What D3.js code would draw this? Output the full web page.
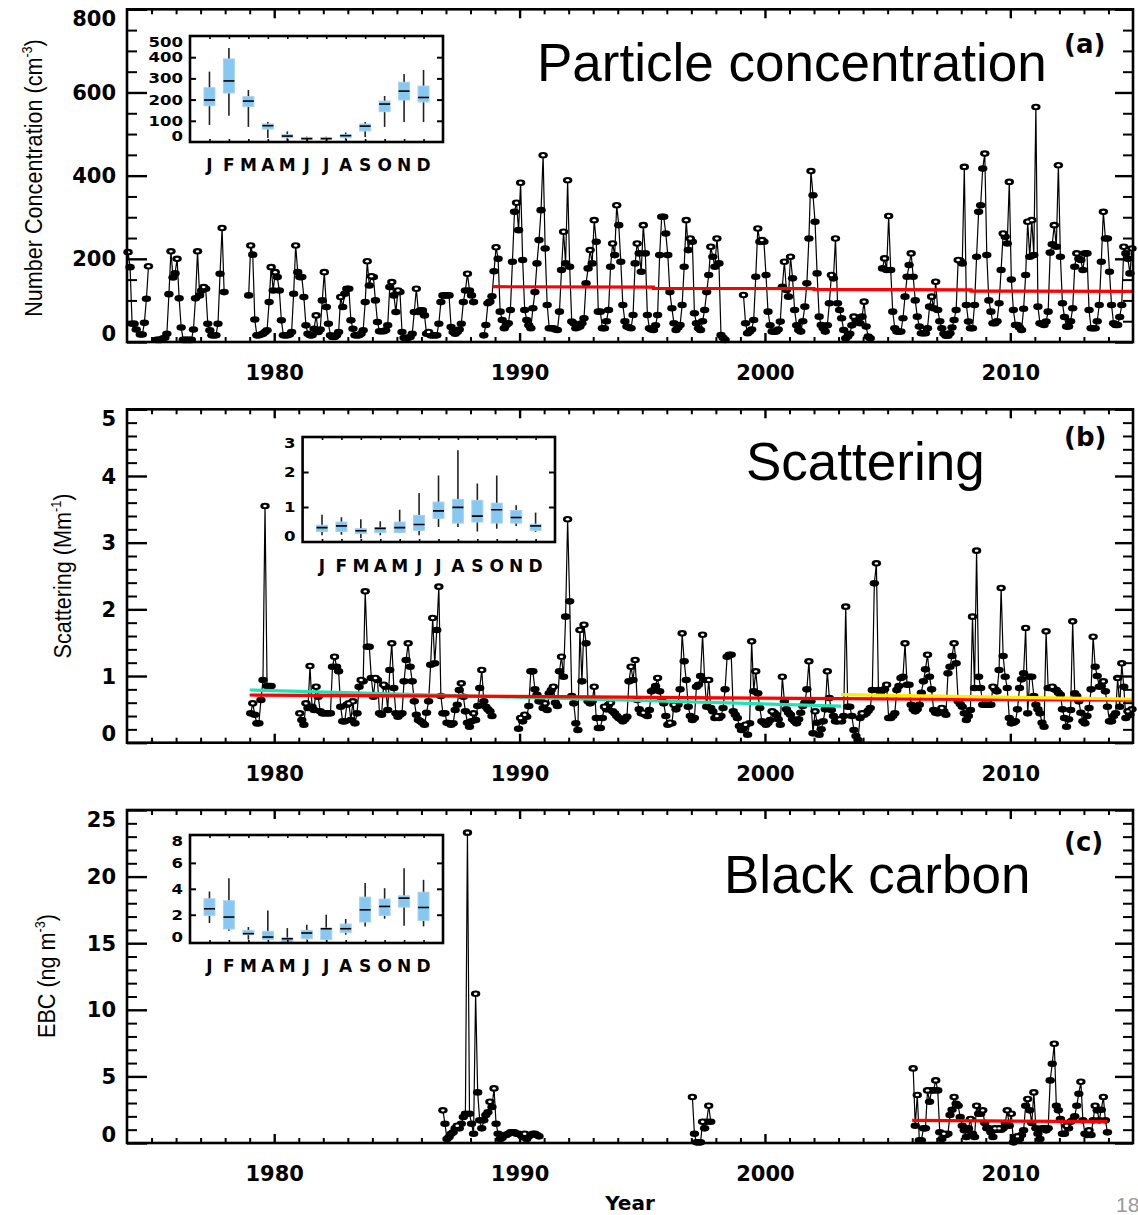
<!DOCTYPE html>
<meta charset="utf-8">
<style>
body { margin: 0; background: #fff; }
svg { display: block; }
</style>
<body>
<div id="chart"></div>
<script src="https://cdn.jsdelivr.net/npm/d3@7"></script>
<script>
// ---------- data ----------
const xMajorYears = [1980, 1990, 2000, 2010];
const monthLetters = ["J","F","M","A","M","J","J","A","S","O","N","D"];

// (a) number concentration, monthly, Jan 1974 .. Dec 2014
const ncStart = 1974;
const ncMonthly = [
  216,180,44,44,30,null,18,18,46,104,182,null,
  null,null,5,5,5,8,10,20,115,218,155,165,
  200,105,35,5,5,5,5,5,30,105,218,112,
  124,132,128,44,28,16,16,16,44,164,274,120,
  null,null,null,null,null,null,null,null,null,null,null,112,
  232,210,54,16,16,18,20,24,28,96,180,124,
  168,156,124,52,16,16,16,18,24,116,232,168,
  156,156,108,40,20,16,16,32,64,24,30,100,
  168,84,44,16,12,12,16,24,108,84,116,128,
  128,52,32,16,16,16,20,28,96,194,136,158,
  156,100,48,26,26,26,28,40,132,144,112,72,
  124,120,24,10,8,10,12,20,72,128,72,76,
  76,64,20,24,16,16,16,16,44,96,112,112,
  112,112,36,24,20,24,30,44,96,124,164,124,
  112,96,null,null,null,null,16,41,93,97,110,170,
  228,200,73,53,33,41,45,77,193,313,335,269,
  383,197,77,53,40,33,81,120,189,245,317,449,
  225,89,33,33,33,30,29,73,173,265,189,389,
  181,49,45,33,35,37,45,57,141,177,221,189,
  293,241,73,73,33,33,50,77,181,237,209,329,
  281,193,89,50,37,35,33,65,189,237,213,169,
  281,213,65,33,30,29,40,65,209,301,301,261,
  209,120,81,45,29,35,41,89,181,293,221,249,
  241,69,45,33,29,50,77,120,161,229,205,181,
  249,189,17,10,5,null,null,null,null,null,null,null,
  null,113,45,21,25,30,53,157,273,241,245,241,
  161,73,40,25,25,25,30,49,133,193,125,109,
  205,153,77,40,29,25,50,85,141,249,411,353,
  289,165,61,41,33,25,40,93,161,153,249,93,
  77,57,29,9,13,20,40,61,53,50,45,61,
  97,37,13,9,null,null,null,null,null,177,201,173,
  303,173,73,33,25,25,25,57,109,157,185,213,
  157,100,61,37,21,21,21,33,85,109,81,145,
  77,50,33,20,15,15,21,35,53,77,197,195,
  189,421,89,49,33,33,89,205,313,329,417,453,
  209,100,73,45,45,50,93,173,261,253,237,385,
  150,77,41,41,35,29,80,161,289,205,293,209,
  565,85,45,43,41,49,73,215,235,281,229,425,
  205,93,60,37,37,50,81,181,213,200,197,173,
  213,213,77,33,33,33,50,89,193,313,249,249,
  169,89,45,41,41,60,89,229,213,200,165,225
];
const ncTrend = [[1988.9,133],[1995.45,132],[1995.45,129],[2002.0,128.5],[2002.0,126.5],[2008.4,125.5],[2008.4,122.5],[2015,121.5]];
const ncTicks = [0, 200, 400, 600, 800];
const ncInsetTicks = [0, 100, 200, 300, 400, 500];
// [whisker low, q1, median, q3, whisker high]
const ncBoxes = [
  [80,171,198,256,332],[124,231,288,392,443],[71,167,193,214,245],[19,61,77,85,94],
  [5,20,28,35,50],[5,12,16,20,25],[5,12,16,20,25],[10,20,30,35,45],
  [24,52,75,85,94],[71,143,179,193,217],[94,198,240,282,321],[94,189,210,264,340]
];

// (b) scattering, monthly, Jan 1979 .. Dec 2014
const scStart = 1979;
const scMonthly = [
  0.44,0.59,0.42,0.29,0.29,0.64,0.94,3.55,0.85,0.85,0.85,null,
  null,null,null,null,null,null,null,null,null,null,null,null,
  0.44,0.34,0.27,0.59,0.52,1.15,0.54,0.49,0.84,0.69,0.47,0.44,
  0.44,0.44,0.44,0.44,1.14,1.29,1.14,1.07,0.54,0.32,0.32,0.57,
  0.59,0.34,0.62,0.29,0.44,0.84,0.94,0.92,2.27,1.44,1.44,0.97,
  0.69,0.97,0.94,0.44,0.42,0.87,0.84,0.49,1.09,1.49,0.82,0.44,
  0.39,0.42,0.44,0.92,1.24,1.49,1.14,0.92,0.62,0.42,0.34,0.32,
  0.30,0.27,0.45,0.62,1.17,1.87,1.19,1.69,2.34,0.70,0.44,0.44,
  0.30,0.29,0.27,0.29,0.49,0.57,0.79,0.89,0.69,0.47,0.30,0.24,
  0.32,0.44,0.34,0.55,0.82,1.09,0.62,0.54,0.50,0.47,0.40,null,
  null,null,null,null,null,null,null,null,null,null,null,0.21,
  0.37,0.32,0.42,0.39,0.55,1.07,1.07,0.80,0.72,0.62,0.62,0.52,
  0.59,0.49,0.74,0.79,0.84,0.60,0.55,1.07,1.29,0.99,1.89,3.35,
  2.12,0.70,0.59,0.29,0.19,1.69,0.92,1.77,1.49,0.62,0.59,0.62,
  0.84,0.37,0.22,0.22,0.37,0.54,0.50,0.57,0.60,0.47,0.44,0.40,
  0.37,0.35,0.32,0.35,0.39,0.92,1.14,0.94,1.24,0.64,0.50,0.44,
  0.45,0.42,0.40,0.49,0.77,0.79,0.85,0.97,0.77,0.65,0.59,0.40,
  0.27,0.30,0.29,0.57,0.50,0.57,0.80,1.64,1.22,0.94,0.54,0.40,
  0.34,0.37,0.84,0.87,1.00,1.62,0.94,0.54,0.94,0.52,0.47,0.37,
  0.40,0.37,0.40,0.52,0.80,1.29,1.32,1.32,0.47,0.42,0.37,0.25,
  0.19,0.22,0.27,0.12,0.29,1.52,0.77,1.07,0.74,0.52,0.32,0.30,
  0.27,0.30,0.34,0.47,0.45,0.42,0.35,0.27,0.99,0.62,0.50,0.45,
  0.42,0.35,0.32,0.29,0.35,0.45,0.55,0.60,0.80,1.22,0.62,0.14,
  0.47,0.30,0.12,0.20,0.32,0.50,1.07,0.67,0.49,0.40,0.32,0.32,
  0.35,0.32,0.40,2.04,0.54,0.54,0.40,0.19,0.10,0.04,0.37,0.44,
  0.42,0.44,0.48,0.52,0.79,2.39,2.69,0.79,0.75,0.79,0.80,0.87,
  0.37,0.37,0.40,0.44,0.79,0.85,0.97,0.99,1.49,0.87,0.87,0.57,
  0.50,0.47,0.50,0.57,0.75,0.92,1.10,1.32,0.99,0.80,0.49,0.45,
  0.44,0.48,0.52,0.47,0.42,1.04,1.14,1.30,1.49,1.19,0.62,0.58,
  0.54,0.44,0.34,0.40,0.49,1.89,0.82,2.88,0.99,0.82,0.57,0.57,
  0.57,0.57,0.57,0.84,0.80,0.77,1.09,2.32,1.30,0.99,0.82,0.37,
  0.29,0.30,0.32,0.50,0.82,0.95,1.04,1.72,0.44,0.99,0.99,0.70,
  0.57,0.50,0.44,0.30,0.24,1.67,0.82,0.82,0.84,0.80,0.79,0.75,
  0.72,0.50,0.37,0.24,0.35,0.49,1.82,0.74,0.70,0.62,0.45,0.32,
  0.29,0.40,0.52,0.80,1.59,1.14,1.00,0.84,0.85,0.92,0.77,0.54,
  0.32,0.32,0.40,0.44,0.97,0.54,1.19,0.84,0.37,0.47,0.42,0.50
];
const scTrendCyan = [[1979.0,0.79],[2003.1,0.55]];
const scTrendRed = [[1979.0,0.715],[1991.6,0.69],[1996.8,0.675],[2003.1,0.66],[2010.1,0.645],[2015,0.64]];
const scTrendYellow = [[2003.1,0.72],[2015,0.655]];
const scTicks = [0, 1, 2, 3, 4, 5];
const scInsetTicks = [0, 1, 2, 3];
const scBoxes = [
  [0.19,0.30,0.41,0.48,0.78],[0.21,0.30,0.46,0.57,0.71],[0.11,0.24,0.32,0.38,0.65],[0.19,0.27,0.39,0.41,0.59],
  [0.26,0.27,0.41,0.57,0.92],[0.19,0.33,0.50,0.76,1.40],[0.43,0.67,0.89,1.14,1.90],[0.43,0.54,0.99,1.22,2.62],
  [0.30,0.57,0.74,1.19,1.67],[0.38,0.54,0.92,1.11,1.90],[0.46,0.54,0.70,0.90,1.05],[0.29,0.33,0.46,0.51,0.84]
];

// (c) equivalent black carbon, monthly segments
const ebc1986 = [2.45,1.45,
  0.3,0.45,0.7,0.8,1.1,1.3,1.1,1.45,1.95,2.2,23.3,2.2,
  1.45,0.7,11.2,3.8,1.7,1.1,1.7,2.1,2.3,3.1,2.7,4.1,
  1.45,0.7,0.3,0.4,0.6,0.6,0.7,0.8,0.8,0.8,0.7,0.7,
  0.6,0.45,0.7,0.3,0.5,0.6,0.7,0.7,0.6,0.5];
const ebc1997 = [3.45,0.7,0.05,0.05,0.05,1.6,1.1,1.6,2.8,1.6];
const ebc2006 = [
  5.6,1.3,3.6,0.2,0.2,1.1,1.1,3.95,3.1,3.95,3.95,4.7,
  3.95,0.8,0.3,0.7,0.6,0.7,2.1,2.5,3.45,2.95,2.8,1.95,
  1.3,0.95,0.45,1.1,1.8,0.7,0.45,2.8,2.2,2.2,2.45,1.5,
  1.1,1.1,0.8,0.45,1.1,1.0,1.1,1.0,1.1,1.5,2.45,1.3,
  2.2,0.05,0.45,0.5,0.3,0.6,0.95,2.8,3.3,2.45,1.5,3.8,
  1.1,0.7,0.3,1.1,1.1,0.95,1.1,4.7,5.95,7.45,2.8,2.45,
  1.8,0.7,0.7,1.3,1.1,1.6,1.7,2.0,2.8,3.7,4.6,1.7,
  0.7,0.6,0.95,0.6,1.7,2.8,2.45,1.7,2.5,3.45,1.7,0.8];
const ebcTrend = [[2006.0,1.7],[2013.95,1.6]];
const ebcTicks = [0, 5, 10, 15, 20, 25];
const ebcInsetTicks = [0, 2, 4, 6, 8];
const ebcBoxes = [
  [1.36,1.95,2.46,3.23,3.79],[0.77,0.90,1.82,3.08,4.82],[0.08,0.46,0.54,0.79,1.05],[0.08,0.08,0.28,0.72,2.33],
  [-0.3,-0.25,0.15,0.21,0.97],[0.08,0.15,0.59,0.79,1.23],[0.03,0.08,0.92,0.97,2.0],[0.46,0.64,0.92,1.28,1.67],
  [1.10,1.44,2.38,3.36,4.44],[1.69,1.95,2.64,3.21,4.05],[1.15,2.59,3.28,3.46,5.59],[1.10,1.56,2.56,3.74,4.69]
];

// ---------- drawing ----------
const W = 1138, H = 1215;
const LEFT = 127, RIGHT = 1133;
const tickFont = "'DejaVu Sans', sans-serif";
const textFont = "'Liberation Sans', Arial, sans-serif";

const svg = d3.select("#chart").append("svg")
    .attr("width", W).attr("height", H)
    .style("background", "#fff");

const x = d3.scaleLinear().domain([1974, 2015]).range([LEFT, RIGHT]);
const minorYears = d3.range(1975, 2015).filter(d => d % 10 != 0);

function drawSeries(g, y, start, values) {
  const pts = values.map((v, i) => ({t: start + (i + 0.5) / 12, v: v}));
  g.append("path").datum(pts)
    .attr("d", d3.line().defined(d => d.v != null).x(d => x(d.t)).y(d => y(d.v)))
    .attr("fill", "none").attr("stroke", "#000").attr("stroke-width", 1.2);
  const shown = pts.filter(d => d.v != null);
  g.append("g").selectAll("ellipse").data(shown).join("ellipse")
    .attr("cx", d => x(d.t)).attr("cy", d => y(d.v))
    .attr("rx", 4.7).attr("ry", 3.3).attr("fill", "#000");
  const isPeak = (d, i) => d.v != null &&
    (i == 0 || pts[i-1].v == null || d.v > pts[i-1].v) &&
    (i == pts.length - 1 || pts[i+1].v == null || d.v > pts[i+1].v);
  g.append("g").selectAll("ellipse").data(pts.filter(isPeak)).join("ellipse")
    .attr("cx", d => x(d.t)).attr("cy", d => y(d.v))
    .attr("rx", 1.8).attr("ry", 1.2).attr("fill", "#fff");
}

function drawTrend(g, y, pts, color) {
  g.append("path").datum(pts)
    .attr("d", d3.line().x(d => x(d[0])).y(d => y(d[1])))
    .attr("fill", "none").attr("stroke", color).attr("stroke-width", 3.2);
}

function styleAxis(a, w) {
  a.select(".domain").remove();
  a.selectAll("line").attr("stroke", "#000").attr("stroke-width", w);
}

function drawFrame(g, p, y) {
  // x ticks (inward) on bottom and top
  g.append("g").attr("transform", `translate(0,${p.bottom})`)
    .call(d3.axisBottom(x).tickValues(minorYears).tickSize(-5).tickFormat(""))
    .call(a => styleAxis(a, 2));
  g.append("g").attr("transform", `translate(0,${p.top})`)
    .call(d3.axisTop(x).tickValues(minorYears).tickSize(-5).tickFormat(""))
    .call(a => styleAxis(a, 2));
  g.append("g").attr("transform", `translate(0,${p.top})`)
    .call(d3.axisTop(x).tickValues(xMajorYears).tickSize(-9).tickFormat(""))
    .call(a => styleAxis(a, 2.4));
  g.append("g").attr("transform", `translate(0,${p.bottom})`)
    .call(d3.axisBottom(x).tickValues(xMajorYears).tickSize(-9).tickPadding(23).tickFormat(d3.format("d")))
    .call(a => styleAxis(a, 2.4))
    .call(a => a.selectAll("text").attr("font-family", tickFont).attr("font-weight", "bold")
      .attr("font-size", 21).attr("fill", "#000"));

  // y ticks (inward) on left and right
  const minorY = d3.range(p.yDomain[0], p.yDomain[1] + 1e-9, p.minorStep).filter(v => !p.ticks.some(t => Math.abs(t - v) < 1e-9));
  [["L", LEFT], ["R", RIGHT]].forEach(([side, xp]) => {
    const axisFn = side == "L" ? d3.axisLeft : d3.axisRight;
    g.append("g").attr("transform", `translate(${xp},0)`)
      .call(axisFn(y).tickValues(minorY).tickSize(-10).tickFormat(""))
      .call(a => styleAxis(a, 2));
    g.append("g").attr("transform", `translate(${xp},0)`)
      .call(axisFn(y).tickValues(p.ticks).tickSize(side == "L" ? -20 : -18).tickFormat(""))
      .call(a => styleAxis(a, 2.4));
  });

  g.append("rect")
    .attr("x", LEFT).attr("y", p.top)
    .attr("width", RIGHT - LEFT).attr("height", p.bottom - p.top)
    .attr("fill", "none").attr("stroke", "#000").attr("stroke-width", 2.6);

  // y tick labels, kept inside the frame's height like the original
  g.append("g").selectAll("text").data(p.ticks).join("text")
    .attr("x", 116)
    .attr("y", d => Math.max(p.top + 9, Math.min(p.bottom - 9, y(d))) + 7.6)
    .attr("text-anchor", "end")
    .attr("font-family", tickFont).attr("font-weight", "bold").attr("font-size", 21)
    .text(d => d);
}

function drawInset(g, ins) {
  const ix = d3.scaleLinear().domain([0, 13]).range([ins.left, ins.right]);
  const iy = d3.scaleLinear().domain(ins.yDomain).range([ins.bottom, ins.top]);
  const ig = g.append("g");
  ig.append("rect").attr("x", ins.left).attr("y", ins.top)
    .attr("width", ins.right - ins.left).attr("height", ins.bottom - ins.top)
    .attr("fill", "#fff");

  const clipId = "clip-" + ins.id;
  ig.append("clipPath").attr("id", clipId).append("rect")
    .attr("x", ins.left).attr("y", ins.top)
    .attr("width", ins.right - ins.left).attr("height", ins.bottom - ins.top);
  const bg = ig.append("g").attr("clip-path", `url(#${clipId})`);
  const bw = 11;
  const boxes = bg.selectAll("g").data(ins.boxes).join("g");
  boxes.append("line")
    .attr("x1", (d, i) => ix(i + 1)).attr("x2", (d, i) => ix(i + 1))
    .attr("y1", d => iy(d[0])).attr("y2", d => iy(d[4]))
    .attr("stroke", "#222").attr("stroke-width", 1.6);
  boxes.append("rect")
    .attr("x", (d, i) => ix(i + 1) - bw / 2).attr("width", bw)
    .attr("y", d => iy(d[3])).attr("height", d => Math.max(1, iy(d[1]) - iy(d[3])))
    .attr("fill", "#86c8f2").attr("stroke", "#a9d2ec").attr("stroke-width", 1);
  boxes.append("line")
    .attr("x1", (d, i) => ix(i + 1) - bw / 2).attr("x2", (d, i) => ix(i + 1) + bw / 2)
    .attr("y1", d => iy(d[2])).attr("y2", d => iy(d[2]))
    .attr("stroke", "#000").attr("stroke-width", 1.6);

  const months = d3.range(1, 13);
  ig.append("g").attr("transform", `translate(0,${ins.bottom})`)
    .call(d3.axisBottom(ix).tickValues(months).tickSize(-3).tickFormat(""))
    .call(a => styleAxis(a, 1.6));
  ig.append("g").attr("transform", `translate(0,${ins.top})`)
    .call(d3.axisTop(ix).tickValues(months).tickSize(-3).tickFormat(""))
    .call(a => styleAxis(a, 1.6));
  const inner = ins.ticks.slice(1, -1);
  ig.append("g").attr("transform", `translate(${ins.left},0)`)
    .call(d3.axisLeft(iy).tickValues(inner).tickSize(-6).tickFormat(""))
    .call(a => styleAxis(a, 2));
  ig.append("g").attr("transform", `translate(${ins.right},0)`)
    .call(d3.axisRight(iy).tickValues(inner).tickSize(-6).tickFormat(""))
    .call(a => styleAxis(a, 2));

  ig.append("rect").attr("x", ins.left).attr("y", ins.top)
    .attr("width", ins.right - ins.left).attr("height", ins.bottom - ins.top)
    .attr("fill", "none").attr("stroke", "#000").attr("stroke-width", 2.6);

  ig.append("g").selectAll("text").data(ins.ticks).join("text")
    .attr("x", ins.left - 7)
    .attr("y", d => Math.max(ins.top + 6, Math.min(ins.bottom - 6, iy(d))) + 5)
    .attr("text-anchor", "end")
    .attr("font-family", tickFont).attr("font-weight", "bold").attr("font-size", 14)
    .attr("textLength", d => String(d).length * 11.5).attr("lengthAdjust", "spacingAndGlyphs")
    .text(d => d);
  ig.append("g").selectAll("text").data(monthLetters).join("text")
    .attr("x", (d, i) => ix(i + 1)).attr("y", ins.letterY)
    .attr("text-anchor", "middle")
    .attr("font-family", tickFont).attr("font-weight", "bold").attr("font-size", 17)
    .text(d => d);
}

function drawPanel(p) {
  const y = d3.scaleLinear().domain(p.yDomain).range([p.bottom, p.top]);
  const g = svg.append("g");
  p.series.forEach(s => drawSeries(g, y, s[0], s[1]));
  p.trends.forEach(t => drawTrend(g, y, t[0], t[1]));
  drawFrame(g, p, y);
  drawInset(g, p.inset);

  g.append("text").attr("x", p.titleX).attr("y", p.titleY)
    .attr("font-family", textFont).attr("font-size", 53).text(p.title);
  g.append("text").attr("x", 1064).attr("y", p.tagY)
    .attr("font-family", tickFont).attr("font-weight", "bold").attr("font-size", 26).text(p.tag);

  // axis title: condensed a little, as in the original
  const yl = g.append("text")
    .attr("transform", `translate(${p.ylabX},${p.ylabY}) rotate(-90) scale(0.9,1)`)
    .attr("text-anchor", "middle")
    .attr("font-family", textFont).attr("font-size", 24);
  yl.append("tspan").text(p.ylab[0]);
  yl.append("tspan").attr("font-size", 14).attr("dy", -10).text(p.ylab[1]);
  yl.append("tspan").attr("dy", 10).text(")");
}

drawPanel({
  top: 9.3, bottom: 342, yDomain: [0, 800], ticks: ncTicks, minorStep: 50,
  series: [[ncStart, ncMonthly]],
  trends: [[ncTrend, "#ff0000"]],
  title: "Particle concentration", titleX: 537, titleY: 81, tag: "(a)", tagY: 53,
  ylab: ["Number Concentration (cm", "-3"], ylabX: 42, ylabY: 178,
  inset: {id: "a", left: 190, right: 443, top: 36, bottom: 142, yDomain: [0, 500],
          ticks: ncInsetTicks, boxes: ncBoxes, letterY: 171}
});

drawPanel({
  top: 409.3, bottom: 742.7, yDomain: [0, 5], ticks: scTicks, minorStep: 0.2,
  series: [[scStart, scMonthly]],
  trends: [[scTrendCyan, "#1fe3b2"], [scTrendRed, "#ff0000"], [scTrendYellow, "#ffee00"]],
  title: "Scattering", titleX: 746, titleY: 480, tag: "(b)", tagY: 446,
  ylab: ["Scattering (Mm", "-1"], ylabX: 71, ylabY: 576,
  inset: {id: "b", left: 302.6, right: 555, top: 437, bottom: 542, yDomain: [0, 3],
          ticks: scInsetTicks, boxes: scBoxes, letterY: 572}
});

drawPanel({
  top: 810, bottom: 1143, yDomain: [0, 25], ticks: ebcTicks, minorStep: 1,
  series: [[1986 + 10 / 12, ebc1986], [1997, ebc1997], [2006, ebc2006]],
  trends: [[ebcTrend, "#ff0000"]],
  title: "Black carbon", titleX: 724, titleY: 893, tag: "(c)", tagY: 851,
  ylab: ["EBC (ng m", "-3"], ylabX: 55, ylabY: 976,
  inset: {id: "c", left: 190, right: 443, top: 835, bottom: 943, yDomain: [-0.18, 8.15],
          ticks: ebcInsetTicks, boxes: ebcBoxes, letterY: 972}
});

svg.append("text").attr("x", 630).attr("y", 1210).attr("text-anchor", "middle")
  .attr("font-family", tickFont).attr("font-weight", "bold").attr("font-size", 20).text("Year");
svg.append("text").attr("x", 1116).attr("y", 1212)
  .attr("font-family", textFont).attr("font-size", 21).attr("fill", "#999").text("18");
</script>
</body>
